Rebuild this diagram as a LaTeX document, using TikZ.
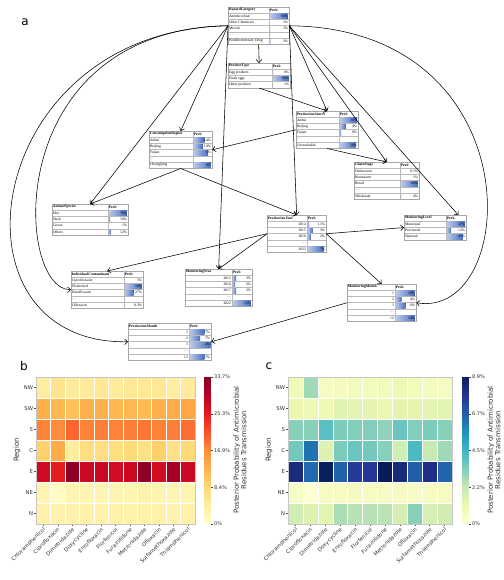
\documentclass[tikz,border=0pt]{standalone}
\usepackage{fontspec}
\setmainfont{Liberation Serif}
\newfontfamily\plotfont{DejaVu Sans}
\usetikzlibrary{arrows.meta, calc}

\definecolor{bnblue}{RGB}{70,110,195}
% YlOrRd and YlGnBu stops
\definecolor{yor0}{HTML}{FFFFCC}\definecolor{yor1}{HTML}{FFEDA0}\definecolor{yor2}{HTML}{FED976}
\definecolor{yor3}{HTML}{FEB24C}\definecolor{yor4}{HTML}{FD8D3C}\definecolor{yor5}{HTML}{FC4E2A}
\definecolor{yor6}{HTML}{E31A1C}\definecolor{yor7}{HTML}{BD0026}\definecolor{yor8}{HTML}{800026}
\definecolor{ygb0}{HTML}{FFFFD9}\definecolor{ygb1}{HTML}{EDF8B1}\definecolor{ygb2}{HTML}{C7E9B4}
\definecolor{ygb3}{HTML}{7FCDBB}\definecolor{ygb4}{HTML}{41B6C4}\definecolor{ygb5}{HTML}{1D91C0}
\definecolor{ygb6}{HTML}{225EA8}\definecolor{ygb7}{HTML}{253494}\definecolor{ygb8}{HTML}{081D58}

\tikzset{
  bnframe/.style={draw=gray!70, line width=0.3pt, inner sep=0pt, anchor=north west},
  bnrule/.style={draw=gray!55, line width=0.25pt},
  bntext/.style={font=\fontsize{3.7}{4}\selectfont, inner sep=0.4pt},
  bnhead/.style={bntext, font=\fontsize{3.7}{4}\selectfont\bfseries},
  bnbar/.style={left color=bnblue!35, right color=bnblue},
  link/.style={->, line width=0.55pt},
  ticklab/.style={font=\plotfont\fontsize{5.3}{6}\selectfont, text=black!80, inner sep=0.3pt},
  cblab/.style={font=\plotfont\fontsize{5}{6}\selectfont, text=black!80, inner sep=0.5pt},
  axlab/.style={font=\plotfont\fontsize{7}{7.6}\selectfont, text=black!80, inner sep=0pt},
  tickmark/.style={draw=black!70, line width=0.3pt},
  panel/.style={font=\plotfont\fontsize{12}{12}\selectfont, inner sep=0pt},
}

\newcommand{\rowh}{6.2}
\newcommand{\bndots}{\dots}

% colour of a value 0..1 from a 9-stop map
\newcommand{\cmapcolor}[3]{%
  \pgfmathsetmacro\cmv{min(max(#2,0),0.999)*8}%
  \pgfmathtruncatemacro\cmi{floor(\cmv)}%
  \pgfmathtruncatemacro\cmj{\cmi+1}%
  \pgfmathtruncatemacro\cmp{round((\cmv-\cmi)*100)}%
  \colorlet{#3}{#1\cmj!\cmp!#1\cmi}%
}

% name, left x, top y, right x, split x, title, label anchor, rows
\newcommand{\bntable}[8]{%
  \def\bnanchor{#7}\def\bneast{east}%
  \ifx\bnanchor\bneast \pgfmathsetmacro\bnlx{#5-0.5}\else\pgfmathsetmacro\bnlx{#2+0.4}\fi
  \foreach \lab/\val/\bw [count=\r] in {#8}{
    \pgfmathsetmacro\yr{#3+\r*\rowh}
    \draw[bnrule] (#2,\yr) -- (#4,\yr);
    \ifdim\bw pt>0pt
      \fill[bnbar] (#5+0.3,\yr+0.7) rectangle ({#5+0.3+(#4-#5-0.6)*\bw},\yr+\rowh-0.7);
    \fi
    \ifx\lab\bndots
      \node[bntext, anchor=west, text=gray] (#1l\r) at (#2+0.4,\yr+\rowh/2) {\lab};
    \else
      \node[bntext, anchor=#7] (#1l\r) at (\bnlx,\yr+\rowh/2) {\lab};
    \fi
    \node[bntext, anchor=east] (#1v\r) at (#4-0.4,\yr+\rowh/2) {\val};
    \xdef\bnrows{\r}
  }
  \pgfmathsetmacro\bnh{(\bnrows+1)*\rowh}
  \pgfmathsetmacro\bnw{#4-#2}
  \node[bnframe, minimum width=\bnw pt, minimum height=\bnh pt] (#1) at (#2,#3) {};
  \draw[bnrule] (#5,#3) -- (#5,#3+\bnh);
  \node[bnhead, anchor=west] (#1t) at (#2+0.3,#3+\rowh/2) {#6};
  \node[bnhead, anchor=west] (#1p) at (#5+0.3,#3+\rowh/2) {Prob};
}

% colour map, left x, right x, rows
\newcommand{\heatmap}[4]{%
  \pgfmathsetmacro\cw{(#3-#2)/11}
  \foreach \rname/\vals [count=\ri from 0] in {#4}{
    \node[ticklab, anchor=east] (#1row\ri) at (#2-2.5,{377+(\ri+0.5)*21}) {\rname};
    \draw[tickmark] (#2-2,{377+(\ri+0.5)*21}) -- (#2,{377+(\ri+0.5)*21});
    \foreach \v [count=\ci from 0] in \vals {
      \cmapcolor{#1}{\v}{cellc}
      \fill[cellc, draw=white, line width=0.3pt] ({#2+\ci*\cw},{377+\ri*21}) rectangle ++(\cw,21);
    }
  }
  \foreach \drug [count=\ci from 0] in {Chloramphenicol, Ciprofloxacin, Dimetridazole, Doxycycline,
      Enrofloxacin, Florfenicol, Furazolidone, Metronidazole, Ofloxacin, Sulfamethoxazole, Thiamphenicol}{
    \draw[tickmark] ({#2+(\ci+0.5)*\cw},524) -- ++(0,2);
    \node[ticklab, rotate=45, anchor=east] (#1drug\ci) at ({#2+(\ci+0.5)*\cw+1.5},528.5) {\drug};
  }
  \draw[gray!45, line width=0.4pt] (#2,377) rectangle (#3,524);
  \node[axlab, rotate=90] (#1axis) at (#2-19,450) {Region};
}

% colour map, x, ticks
\newcommand{\cbar}[3]{%
  \foreach \k in {0,...,59}{
    \pgfmathsetmacro\f{(\k+0.5)/60}
    \cmapcolor{#1}{\f}{barc}
    \fill[barc] (#2,{524-(\k+1)*2.45-0.15}) rectangle (#2+7,{524-\k*2.45});
  }
  \foreach \f/\t [count=\i] in {#3}{
    \draw[tickmark] (#2+7,{524-\f*147}) -- ++(2,0);
    \node[cblab, anchor=west] (#1tick\i) at (#2+9.5,{524-\f*147}) {\t};
  }
}

\begin{document}
\begin{tikzpicture}[x=1pt, y=-1pt, >={Straight Barb[length=3pt,width=5.5pt]}]
\useasboundingbox (0,0) rectangle (503,580);
\fill[white] (0,0) rectangle (503,580);

%% a: network
\node[panel] (pa) at (25,22) {a};

\bntable{hazard}{228}{7}{289}{269}{HazardCategory}{west}{Antimicrobial/90\%/0.95, Other Chemicals/1\%/0.02, Microb/3\%/0.04, \dots/{}/0, Pesti\&veterinary Drug/3\%/0.05}
\bntable{ptype}{228}{63}{290}{272}{ProductType}{west}{Egg products/6\%/0.05, Fresh eggs/90\%/0.95, Other products/1\%/0.01}
\bntable{prodsrc}{296}{111}{358}{339}{ProductionSource}{west}{Anhui/30\%/0.95, Beijing/4\%/0.35, Fujian/9\%/0.1, \dots/{}/0, Unreachable/56\%/0.9}
\bntable{consreg}{149}{131}{212}{193}{ConsumptionRegion}{west}{Anhui/2.4\%/0.6, Beijing/1.9\%/0.5, Fujian/5\%/0.8, \dots/{}/0, ChongQing/9\%/0.95}
\bntable{chain}{354}{162}{419}{400}{ChainStage}{west}{Onlinestore/0.1\%/0, Restaurant/1\%/0, Retail/80\%/0.95, \dots/{}/0, Wholesale/4\%/0.05}
\bntable{animal}{52}{204}{128}{108}{AnimalSpecies}{west}{Hen/78\%/0.95, Duck/10\%/0.1, Goose/1\%/0, Others/12\%/0.12}
\bntable{prodyear}{267}{215}{326}{307}{ProductionYear}{east}{2014/1.1\%/0.1, 2015/3\%/0.3, 2016/2\%/0.2, \dots/{}/0, 2022/7\%/0.9}
\bntable{monlevel}{404}{215}{466}{446}{MonitoringLevel}{west}{Municipal/47\%/0.95, Provincial/12\%/0.25, National/41\%/0.85}
\bntable{indcont}{71}{271}{143}{124}{IndividualContaminant}{west}{Ciprofloxacin/5\%/0, Florfenicol/58\%/0.95, Enrofloxacin/27\%/0.5, \dots/{}/0, Ofloxacin/0.3\%/0}
\bntable{monyear}{185}{269}{252}{232}{MonitoringYear}{east}{2015/3\%/0.2, 2016/2\%/0.15, 2017/3\%/0.2, \dots/{}/0, 2022/13\%/0.95}
\bntable{monmonth}{347}{284}{416}{395}{MonitoringMonth}{east}{1/10\%/0.95, 2/4\%/0.3, 3/6\%/0.5, \dots/{}/0, 12/10\%/0.95}
\bntable{prodmonth}{128}{323}{211}{189}{ProductionMonth}{east}{1/7\%/0.7, 2/7\%/0.5, 3/4\%/1, \dots/{}/0, 12/7\%/0.7}

\draw[link] (hazard.south) -- (ptype.north);
\foreach \t in {consreg, animal, monyear}
    \draw[link] (hazard.west) -- (\t.north);
\foreach \t in {prodsrc, chain, prodyear}
    \draw[link] (hazard.east) -- (\t.north);
\draw[link] (hazard.east) -- ($(monlevel.north east)+(-8,0)$);
\draw[link] (hazard.west) .. controls (-20,30) and (-60,345) .. (prodmonth.west);
\draw[link] (hazard.west) .. controls (0,30) and (15,290) .. (indcont.west);
\draw[link] (hazard.east) .. controls (535,28) and (520,320) .. (monmonth.east);
\draw[link] (ptype.south) -- (prodsrc.north);
\draw[link] (prodsrc.west) -- (consreg.east);
\draw[link] (prodsrc.south) -- (chain.north);
\draw[link] (consreg.south) -- (animal.north);
\draw[link] (consreg.south) -- (prodyear.north);
\draw[link] (prodyear.west) -- (indcont.north);
\draw[link] (prodyear.west) -- (monyear.north);
\draw[link] (prodyear.east) -- (monlevel.west);
\draw[link] (prodyear.east) -- (monmonth.north);
\draw[link] (monmonth.west) -- (prodmonth.east);

%% b and c: heatmaps
\node[panel] (pb) at (24,366) {b};
\node[panel] (pc) at (269,366) {c};

\heatmap{yor}{36}{195}{
  NW/{0.12,0.18,0.14,0.14,0.16,0.14,0.16,0.15,0.16,0.12,0.14},
  SW/{0.38,0.36,0.33,0.38,0.38,0.36,0.36,0.35,0.38,0.40,0.42},
  S/{0.52,0.50,0.58,0.52,0.53,0.52,0.53,0.55,0.52,0.53,0.56},
  C/{0.27,0.40,0.12,0.22,0.22,0.22,0.24,0.20,0.28,0.20,0.24},
  E/{0.82,0.74,0.97,0.83,0.83,0.81,0.83,0.97,0.81,0.92,0.83},
  NE/{0.07,0.03,0.07,0.07,0.07,0.07,0.07,0.09,0.07,0.07,0.07},
  N/{0.10,0.09,0.09,0.10,0.10,0.10,0.10,0.10,0.10,0.09,0.10}}
\cbar{yor}{204}{0/0\%, 0.25/8.4\%, 0.5/16.9\%, 0.75/25.3\%, 1/33.7\%}
\node[axlab, rotate=90, align=center] (blab) at (240,450) {Posterior Probability of Antimicrobial\\Residues Transmission};

\heatmap{ygb}{288}{452}{
  NW/{0.10,0.32,0.07,0.08,0.09,0.09,0.09,0.11,0.09,0.09,0.07},
  SW/{0.13,0.11,0.11,0.17,0.16,0.15,0.13,0.15,0.15,0.15,0.16},
  S/{0.36,0.36,0.45,0.38,0.37,0.37,0.35,0.42,0.37,0.38,0.36},
  C/{0.40,0.70,0.18,0.38,0.42,0.40,0.36,0.22,0.48,0.25,0.32},
  E/{0.92,0.72,0.99,0.74,0.85,0.87,1.00,0.93,0.75,0.90,0.73},
  NE/{0.06,0.02,0.07,0.07,0.08,0.07,0.07,0.07,0.06,0.07,0.07},
  N/{0.22,0.18,0.16,0.30,0.28,0.28,0.27,0.20,0.36,0.20,0.22}}
\cbar{ygb}{462}{0/0\%, 0.25/2.2\%, 0.5/4.5\%, 0.75/6.7\%, 1/8.9\%}
\node[axlab, rotate=90, align=center] (clab) at (494,450) {Posterior Probability of Antimicrobial\\Residues Transmission};
\end{tikzpicture}
\end{document}
